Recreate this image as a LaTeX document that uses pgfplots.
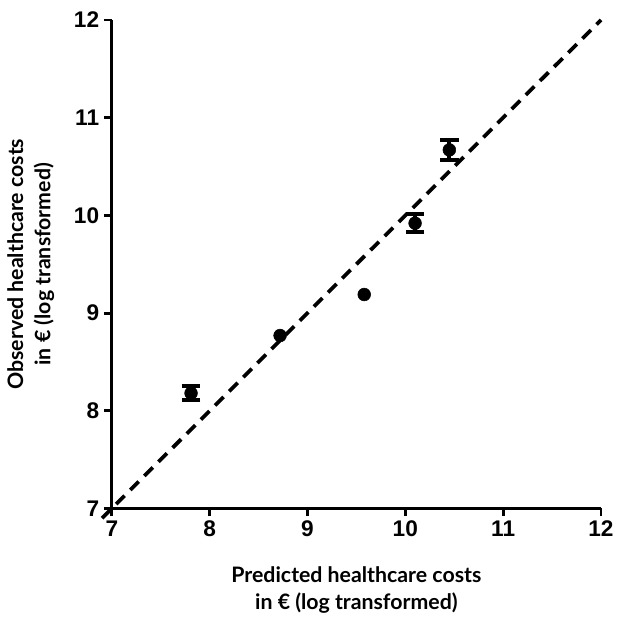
\documentclass[border=0pt]{standalone}
\usepackage{pgfplots}
\pgfplotsset{compat=1.18}
\usepackage{fontspec}
\setmainfont{Lato}[BoldFont={Lato Bold}]
\newfontfamily\tickfont{Liberation Sans}
\begin{document}
\begin{tikzpicture}
\begin{axis}[
  scale only axis,
  width=367.5pt, height=367pt,
  xmin=7, xmax=12, ymin=7, ymax=12,
  axis lines=left,
  axis line style={line width=2.2pt, -},
  every tick/.style={line width=2.2pt, black},
  tick align=outside,
  major tick length=6pt,
  xtick={7,8,9,10,11,12}, ytick={7,8,9,10,11,12},
  /pgf/number format/assume math mode=true,
  tick label style={font=\tickfont\bfseries\fontsize{17}{19}\selectfont},
  label style={font=\bfseries\fontsize{16}{20.5}\selectfont, align=center},
  xlabel={Predicted healthcare costs\\in € (log transformed)},
  ylabel={Observed healthcare costs\\in € (log transformed)},
  xlabel style={yshift=-15pt},
  ylabel style={yshift=8pt},
  clip=false,
]
\addplot[black, line width=2.8pt, dash pattern=on 9pt off 6pt] coordinates {(6.9,6.9) (12,12)};
\addplot[black, only marks, mark=*, mark size=4.8pt,
  error bars/.cd, y dir=both, y explicit,
  error bar style={line width=3pt},
  error mark options={line width=3pt, mark size=7pt, rotate=90}]
  coordinates {
  (7.81,8.18) +- (0,0.07)
  (10.10,9.92) +- (0,0.09)
  (10.45,10.67) +- (0,0.10)
};
\addplot[black, only marks, mark=*, mark size=4.8pt]
  coordinates {
  (8.72,8.77)
  (9.58,9.19)
};
\end{axis}
\path ([yshift=15pt]current axis.north) -- ++(0,0);
\path ([xshift=-84pt]current axis.west) -- ++(0,0);
\end{tikzpicture}
\end{document}
